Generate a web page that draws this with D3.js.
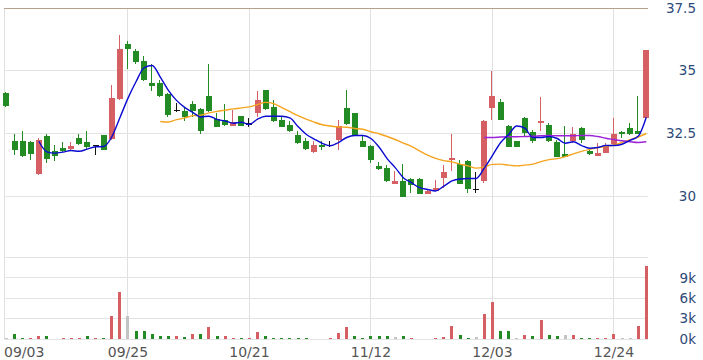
<!DOCTYPE html>
<html>
<head>
<meta charset="utf-8">
<script src="https://cdn.jsdelivr.net/npm/d3@7"></script>
<style>
  body { margin: 0; background: #fff; }
  svg { display: block; font-family: "DejaVu Sans", sans-serif; }
</style>
</head>
<body>
<svg id="chart"></svg>
<script>
// trading days (2024)
const dates = [
  "09/03","09/04","09/05","09/06","09/09","09/10","09/11","09/12","09/13","09/16",
  "09/18","09/19","09/20","09/23","09/24","09/25","09/26","09/27","09/30","10/01",
  "10/04","10/07","10/08","10/09","10/11","10/14","10/15","10/16","10/17","10/18",
  "10/21","10/22","10/23","10/24","10/25","10/28","10/29","10/30","11/01","11/04",
  "11/05","11/06","11/07","11/08","11/11","11/12","11/13","11/14","11/15","11/18",
  "11/19","11/20","11/21","11/22","11/25","11/26","11/27","11/28","11/29","12/02",
  "12/03","12/04","12/05","12/06","12/09","12/10","12/11","12/12","12/13","12/16",
  "12/17","12/18","12/19","12/20","12/23","12/24","12/25","12/26","12/27","12/30"
];
const xLabels = ["09/03", "09/25", "10/21", "11/12", "12/03", "12/24"];

const open = [
  34.11,32.19,32.20,32.16,30.88,32.42,31.79,31.92,31.87,32.32,
  32.16,32.03,32.45,32.28,33.88,36.06,35.77,35.37,34.51,34.51,
  34.07,33.45,33.41,33.67,33.47,34.00,33.06,33.03,32.81,33.19,
  32.90,33.31,34.22,33.55,33.05,32.85,32.45,32.19,31.76,32.03,
  32.06,32.25,33.51,33.31,32.21,32.01,31.21,31.12,30.49,30.61,
  30.69,30.70,30.09,30.22,30.71,31.43,31.30,31.40,30.28,30.61,
  33.53,33.75,32.80,32.20,33.11,32.54,32.90,32.84,32.18,31.68,
  32.21,32.71,31.81,31.62,31.73,32.07,32.56,32.72,32.59,33.11
];
const high = [
  34.15,32.49,32.61,32.21,32.32,32.48,32.05,32.15,32.15,32.49,
  32.61,32.05,32.45,34.44,36.41,36.17,35.85,35.57,35.27,34.64,
  34.10,33.70,33.51,33.80,33.50,35.27,33.30,33.67,33.43,33.21,
  33.10,34.18,34.25,33.82,33.18,32.98,32.58,32.32,32.22,32.22,
  32.19,33.05,34.22,33.33,32.42,32.05,31.35,31.25,31.01,31.28,
  30.72,30.72,30.25,30.64,31.24,32.48,31.45,31.45,30.98,33.03,
  35.00,33.87,32.82,32.20,33.15,32.64,33.95,32.93,32.24,32.80,
  32.76,32.76,31.90,32.11,32.12,33.10,32.61,32.93,34.01,35.81
];
const low = [
  33.55,31.63,31.57,31.43,30.85,31.32,31.39,31.76,31.85,32.05,
  31.85,31.63,31.83,32.25,33.85,35.08,35.25,34.60,34.18,33.95,
  33.14,33.35,33.01,33.14,32.50,33.35,32.75,32.80,32.80,32.78,
  32.74,33.14,33.45,32.95,32.75,32.55,32.10,31.86,31.74,31.84,
  31.97,31.85,32.85,32.40,31.95,31.32,31.06,30.57,30.47,29.98,
  30.12,30.07,30.07,30.20,30.32,30.99,30.47,30.12,30.12,30.52,
  33.05,33.03,31.96,31.96,32.38,32.12,32.61,32.17,31.56,31.56,
  32.11,32.13,31.66,31.60,31.71,32.04,32.34,32.45,32.48,33.10
];
const close = [
  33.58,31.83,31.59,31.68,32.25,31.48,31.59,31.79,32.01,32.08,
  31.95,32.03,31.83,33.91,35.87,35.87,35.33,34.64,34.38,33.98,
  33.22,33.45,33.14,33.41,32.58,33.38,32.77,32.84,32.97,32.80,
  32.90,33.82,33.47,32.98,32.77,32.58,32.12,31.88,32.03,31.96,
  32.06,32.78,32.87,32.42,31.97,31.45,31.08,30.61,30.61,29.99,
  30.44,30.09,30.20,30.31,30.95,31.52,30.49,30.28,30.28,33.01,
  34.00,33.05,31.98,31.98,32.52,32.19,33.01,32.19,31.58,31.58,
  32.49,32.24,31.68,31.71,31.99,32.48,32.48,32.48,32.50,35.81
];
// volume, thousands
const volume = [
  0.1,0.75,0.2,0.15,0.45,0.45,0.05,0.15,0.15,0.15,
  0.45,0.15,0.1,3.4,6.9,3.4,1.2,1.2,0.75,0.45,
  0.45,0.45,0.3,0.7,0.7,1.75,0.45,0.45,0.15,0.15,
  0.15,1.0,0.45,0.15,0.15,0.15,0.15,0.15,0.05,0.05,
  0.15,0.85,1.75,0.4,0.15,0.4,0.4,0.4,0.25,0.4,
  0.15,0.05,0.05,0.1,0.35,1.85,0.6,0.15,0.35,3.7,
  5.4,1.2,1.2,0.1,0.6,0.45,2.8,0.6,0.45,0.6,
  0.6,0.15,0.1,0.1,0.1,0.75,0.1,0.1,1.9,10.8
];
// moving averages (each ends on the last day)
const ma5 = [
  32.19,31.77,31.72,31.76,31.82,31.79,31.88,31.97,31.98,32.36,
  33.12,33.90,34.56,35.12,35.21,34.75,34.22,33.82,33.54,33.34,
  33.16,33.19,33.06,33.00,32.91,32.95,32.86,33.07,33.19,33.19,
  33.19,33.12,32.78,32.47,32.28,32.11,32.01,32.14,32.34,32.42,
  32.42,32.30,31.96,31.50,31.14,30.74,30.54,30.34,30.27,30.21,
  30.40,30.61,30.69,30.71,30.71,31.12,31.62,32.13,32.46,32.80,
  32.71,32.34,32.34,32.38,32.30,32.11,32.17,32.02,31.91,31.94,
  32.02,32.02,32.07,32.23,32.39,33.15
];
const ma20 = [
  32.98,32.96,33.05,33.12,33.21,33.23,33.32,33.38,33.43,33.48,
  33.52,33.56,33.65,33.74,33.69,33.53,33.37,33.21,33.07,32.95,
  32.85,32.80,32.76,32.75,32.70,32.67,32.57,32.49,32.38,32.26,
  32.12,31.99,31.81,31.64,31.51,31.42,31.37,31.28,31.21,31.12,
  31.17,31.27,31.28,31.24,31.21,31.24,31.28,31.38,31.46,31.50,
  31.58,31.69,31.79,31.87,31.94,31.99,32.04,32.14,32.25,32.36,
  32.50
];
const ma60 = [
  32.34,32.34,32.36,32.37,32.37,32.38,32.39,32.41,32.42,32.41,
  32.41,32.41,32.42,32.42,32.38,32.31,32.26,32.21,32.17,32.14,
  32.17
];
const priceTicks = [30, 32.5, 35, 37.5];
const volTicks = [0, 3, 6, 9, 12];

const UP = "#d65f63", DOWN = "#238b23", FLAT = "#c3c3c3";
const width = 703, height = 360;
const plotLeft = 4, plotRight = 648;

const svg = d3.select("#chart").attr("width", width).attr("height", height);

const x = d3.scalePoint().domain(dates).range([2.35, 650.35]).padding(0.5);
const y = d3.scaleLinear().domain([27.5, 37.5]).range([259, 8]);
const yVol = d3.scaleLinear().domain([0, 12]).range([339, 257.5]);
const crisp = v => Math.floor(v) + 0.5;

// grid
const grid = svg.append("g").attr("shape-rendering", "crispEdges").attr("stroke-width", 1);
grid.selectAll(".vg").data(xLabels.slice(1)).join("line")
  .attr("x1", d => crisp(x(d))).attr("x2", d => crisp(x(d)))
  .attr("y1", 8).attr("y2", 339)
  .attr("stroke", "#e0e0e0");
grid.append("line")
  .attr("x1", plotLeft + 0.5).attr("x2", plotLeft + 0.5)
  .attr("y1", 8).attr("y2", 339)
  .attr("stroke", "#e0e0e0");
grid.selectAll(".vol").data(volTicks).join("line")
  .attr("x1", plotLeft).attr("x2", plotRight)
  .attr("y1", d => crisp(yVol(d))).attr("y2", d => crisp(yVol(d)))
  .attr("stroke", "#e3e3e3");
grid.selectAll(".price").data(priceTicks).join("line")
  .attr("x1", plotLeft).attr("x2", plotRight)
  .attr("y1", d => crisp(y(d))).attr("y2", d => crisp(y(d)))
  .attr("stroke", d => d === 37.5 ? "#b4a28c" : "#e3e3e3")
  .attr("stroke-width", d => d === 37.5 ? 1.5 : 1);

const bars = dates.map((d, i) => ({
  date: d, o: open[i], h: high[i], l: low[i], c: close[i], v: volume[i],
  pc: i > 0 ? close[i - 1] : null
}));
const candleColor = d => d.c > d.o ? UP : d.c < d.o ? DOWN : "#111";
const volColor = d => d.pc === null || d.c === d.pc ? FLAT : d.c > d.pc ? UP : DOWN;
const left = d => Math.round(x(d.date) - 3);

// candles
const candle = svg.append("g").attr("shape-rendering", "crispEdges")
  .selectAll("g").data(bars).join("g");
candle.append("line")
  .attr("x1", d => left(d) + 2.5).attr("x2", d => left(d) + 2.5)
  .attr("y1", d => y(d.h)).attr("y2", d => y(d.l))
  .attr("stroke", candleColor);
candle.append("rect")
  .attr("x", left)
  .attr("width", 6)
  .attr("y", d => y(Math.max(d.o, d.c)))
  .attr("height", d => Math.max(1.2, y(Math.min(d.o, d.c)) - y(Math.max(d.o, d.c))))
  .attr("fill", candleColor);

// volume
svg.append("g").attr("shape-rendering", "crispEdges")
  .selectAll("rect").data(bars).join("rect")
  .attr("x", d => Math.round(x(d.date) - 1.5))
  .attr("width", 3)
  .attr("y", d => yVol(d.v))
  .attr("height", d => yVol(0) - yVol(d.v))
  .attr("fill", volColor);

// moving averages
const tail = arr => dates.slice(dates.length - arr.length).map((d, i) => [d, arr[i]]);
const maLine = d3.line().x(d => x(d[0])).y(d => y(d[1])).curve(d3.curveMonotoneX);
[[ma20, "#f5a41e"], [ma60, "#9b22d8"], [ma5, "#0a0ad0"]].forEach(([arr, col]) => {
  svg.append("path")
    .attr("d", maLine(tail(arr)))
    .attr("fill", "none")
    .attr("stroke", col)
    .attr("stroke-width", 1.4);
});

// labels
svg.append("g").selectAll("text").data(priceTicks).join("text")
  .attr("x", 696).attr("y", d => y(d)).attr("dy", "0.35em")
  .attr("text-anchor", "end")
  .attr("font-size", 13.5).attr("fill", "#2d4a78")
  .text(d => d);
svg.append("g").selectAll("text").data(volTicks.slice(0, -1)).join("text")
  .attr("x", 696).attr("y", d => yVol(d)).attr("dy", "0.35em")
  .attr("text-anchor", "end")
  .attr("font-size", 13.5).attr("fill", "#2d4a78")
  .text(d => d + "k");
svg.append("g").selectAll("text").data(xLabels).join("text")
  .attr("x", (d, i) => i === 0 ? 4 : x(d))
  .attr("y", 356.5)
  .attr("text-anchor", (d, i) => i === 0 ? "start" : "middle")
  .attr("font-size", 14).attr("fill", "#555")
  .text(d => d);
</script>
</body>
</html>
